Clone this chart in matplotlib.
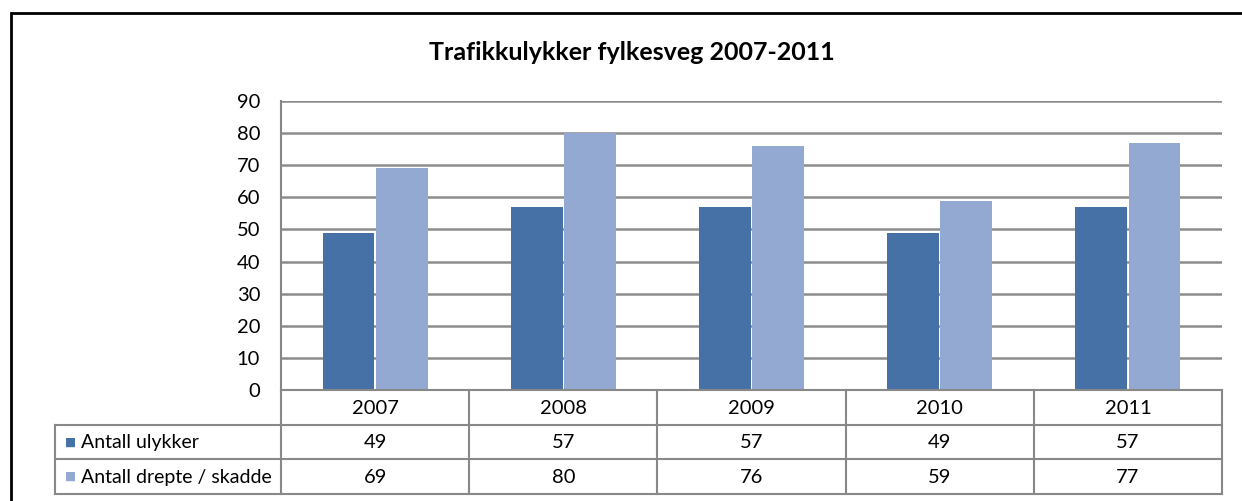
import matplotlib.pyplot as plt
from matplotlib.patches import Rectangle
import numpy as np

plt.rcParams["font.family"] = ["Lato", "DejaVu Sans"]

years = ["2007", "2008", "2009", "2010", "2011"]
ulykker = [49, 57, 57, 49, 57]
drepte = [69, 80, 76, 59, 77]
series_names = ["Antall ulykker", "Antall drepte / skadde"]

DARK = "#4671a7"
LIGHT = "#93a9d1"
GRID = "#8c8c8c"
FS = 14.5

W, H = 1242, 501
fig = plt.figure(figsize=(W / 100, H / 100), dpi=100)

# outer frame
fig.patches.append(Rectangle((11 / W, -0.05), 1.1, 1 - 13 / H + 0.05,
                             transform=fig.transFigure, fill=False,
                             edgecolor="black", linewidth=2))

x0, x1 = 281, 1222
y_top, y_zero = 101, 390
ax = fig.add_axes([x0 / W, 1 - y_zero / H, (x1 - x0) / W, (y_zero - y_top) / H])

x = np.arange(len(years))
bw = 0.275
ax.bar(x - 0.141, ulykker, bw, color=DARK, zorder=3)
ax.bar(x + 0.141, drepte, bw, color=LIGHT, zorder=3)

ax.set_xlim(-0.5, len(years) - 0.5)
ax.set_ylim(0, 90)
ax.set_yticks(range(0, 91, 10))
ax.yaxis.grid(True, color=GRID, linewidth=1.8, zorder=0)
ax.set_axisbelow(True)
ax.tick_params(axis="y", length=0, labelsize=FS, pad=15)
ax.tick_params(axis="x", length=0, labelbottom=False)
for s in ["top", "right", "bottom"]:
    ax.spines[s].set_visible(False)
ax.spines["left"].set_color("#868686")
ax.spines["left"].set_linewidth(1.5)

fig.text(632 / W, 1 - 53 / H, "Trafikkulykker fylkesveg 2007-2011",
         ha="center", va="center", fontsize=18, fontweight="bold")

# data table
t_bot = 494
tab = fig.add_axes([x0 / W, 1 - t_bot / H, (x1 - x0) / W, (t_bot - y_zero) / H])
tab.set_xlim(-0.5, len(years) - 0.5)
tab.set_ylim(3, 0)
tab.axis("off")
left = (55 - x0) / (x1 - x0) * len(years) - 0.5
lc = "#888888"
lw = 1.5
# horizontal lines
tab.plot([-0.5, 4.5], [0, 0], color=lc, lw=lw, clip_on=False)
for r in [1, 2, 3]:
    tab.plot([left, 4.5], [r, r], color=lc, lw=lw, clip_on=False)
# vertical lines
for c in np.arange(-0.5, 4.6, 1.0):
    tab.plot([c, c], [0, 3], color=lc, lw=lw, clip_on=False)
tab.plot([left, left], [1, 3], color=lc, lw=lw, clip_on=False)

for i, yr in enumerate(years):
    tab.text(i, 0.52, yr, ha="center", va="center", fontsize=FS)
    tab.text(i, 1.52, str(ulykker[i]), ha="center", va="center", fontsize=FS)
    tab.text(i, 2.52, str(drepte[i]), ha="center", va="center", fontsize=FS)

for r, (name, col) in enumerate(zip(series_names, [DARK, LIGHT])):
    tab.text(left + 0.055, r + 1.5, "\u25a0", color=col, ha="left", va="center",
             fontsize=8.5, family="DejaVu Sans")
    tab.text(left + 0.137, r + 1.52, name, ha="left", va="center", fontsize=14)

fig.savefig("out.png", dpi=100)
